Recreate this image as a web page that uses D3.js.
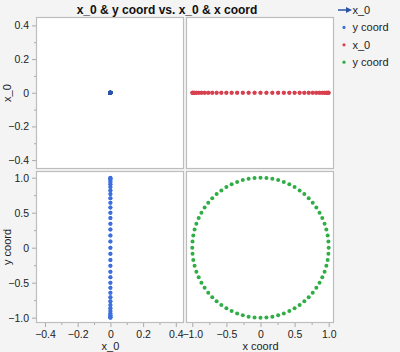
<!DOCTYPE html>
<html><head><meta charset="utf-8">
<script src="https://cdn.jsdelivr.net/npm/d3@7"></script>
<style>
html,body{margin:0;padding:0;background:#f4f4f4;}
svg{display:block;font-family:"Liberation Sans",Arial,Helvetica,sans-serif;}
</style></head>
<body>
<svg id="chart" width="400" height="352"></svg>
<script>
// ---- data ----
const xCoord = [1,0.996,0.985,0.966,0.940,0.906,0.866,0.819,0.766,0.707,0.643,0.574,0.5,0.423,0.342,0.259,0.174,0.087,
  0,-0.087,-0.174,-0.259,-0.342,-0.423,-0.5,-0.574,-0.643,-0.707,-0.766,-0.819,-0.866,-0.906,-0.940,-0.966,-0.985,-0.996,-1,
  -0.996,-0.985,-0.966,-0.940,-0.906,-0.866,-0.819,-0.766,-0.707,-0.643,-0.574,-0.5,-0.423,-0.342,-0.259,-0.174,-0.087,0,
  0.087,0.174,0.259,0.342,0.423,0.5,0.574,0.643,0.707,0.766,0.819,0.866,0.906,0.940,0.966,0.985,0.996];
const yCoord = [0,0.087,0.174,0.259,0.342,0.423,0.5,0.574,0.643,0.707,0.766,0.819,0.866,0.906,0.940,0.966,0.985,0.996,
  1,0.996,0.985,0.966,0.940,0.906,0.866,0.819,0.766,0.707,0.643,0.574,0.5,0.423,0.342,0.259,0.174,0.087,0,
  -0.087,-0.174,-0.259,-0.342,-0.423,-0.5,-0.574,-0.643,-0.707,-0.766,-0.819,-0.866,-0.906,-0.940,-0.966,-0.985,-0.996,-1,
  -0.996,-0.985,-0.966,-0.940,-0.906,-0.866,-0.819,-0.766,-0.707,-0.643,-0.574,-0.5,-0.423,-0.342,-0.259,-0.174,-0.087];
const x0 = [0,0,0,0,0,0,0,0,0,0,0,0,0,0,0,0,0,0,0,0,0,0,0,0,0,0,0,0,0,0,0,0,0,0,0,0,
  0,0,0,0,0,0,0,0,0,0,0,0,0,0,0,0,0,0,0,0,0,0,0,0,0,0,0,0,0,0,0,0,0,0,0,0];
const x0Ticks = [-0.4,-0.2,0,0.2,0.4];
const x0Minor = [-0.3,-0.1,0.1,0.3];
const coordTicks = [-1,-0.5,0,0.5,1];
const coordMinor = [-0.75,-0.25,0.25,0.75];
const titleText = "x_0 & y coord vs. x_0 & x coord";
const legendItems = [
  {label:"x_0", kind:"arrow", color:"#2c52a8"},
  {label:"y coord", kind:"dot", color:"#3d6fde"},
  {label:"x_0", kind:"dot", color:"#d8404f"},
  {label:"y coord", kind:"dot", color:"#2fae45"}
];

// ---- layout ----
const svg = d3.select("#chart");
const cols = [[36,184],[186,334]];
const rows = [[17,169],[171,323]];
const fmt = v => v===0 ? "0" : d3.format(".1f")(v);

const xScales = [
  d3.scaleLinear().domain([-0.455,0.45]).range(cols[0]),
  d3.scaleLinear().domain([-1.092,1.078]).range(cols[1])
];
const yScales = [
  d3.scaleLinear().domain([-0.453,0.45]).range([rows[0][1],rows[0][0]]),
  d3.scaleLinear().domain([-1.076,1.096]).range([rows[1][1],rows[1][0]])
];

// panels
const panels = [
  {c:0,r:0,xs:x0,ys:x0,color:"#2c52a8"},
  {c:1,r:0,xs:xCoord,ys:x0,color:"#d8404f"},
  {c:0,r:1,xs:x0,ys:yCoord,color:"#3d6fde"},
  {c:1,r:1,xs:xCoord,ys:yCoord,color:"#2fae45"}
];
panels.forEach(p=>{
  const [x1,x2]=cols[p.c],[y1,y2]=rows[p.r];
  svg.append("rect").attr("x",x1+0.5).attr("y",y1+0.5).attr("width",x2-x1-1).attr("height",y2-y1-1)
    .attr("fill","#fff").attr("stroke","#bdbdbd").attr("stroke-width",1.2);
  const g = svg.append("g");
  const xs=xScales[p.c], ys=yScales[p.r];
  g.selectAll("circle").data(p.xs.map((v,i)=>[v,p.ys[i]])).join("circle")
    .attr("cx",d=>xs(d[0])).attr("cy",d=>ys(d[1])).attr("r",2).attr("fill",p.color);
});

// axes
function styleAxis(g){
  g.select(".domain").remove();
  g.selectAll(".tick line").attr("stroke","#aaa");
  g.selectAll(".tick text").attr("fill","#222").attr("font-size","10.5px");
}
// left axes
[[0,x0Ticks,x0Minor],[1,coordTicks,coordMinor]].forEach(([r,t,m])=>{
  const g=svg.append("g").attr("transform",`translate(${cols[0][0]},0)`)
    .call(d3.axisLeft(yScales[r]).tickValues(t).tickFormat(fmt).tickSize(4).tickPadding(3));
  styleAxis(g);
  const gm=svg.append("g").attr("transform",`translate(${cols[0][0]},0)`)
    .call(d3.axisLeft(yScales[r]).tickValues(m).tickFormat("").tickSize(2));
  styleAxis(gm);
});
// bottom axes
[[0,x0Ticks,x0Minor],[1,coordTicks,coordMinor]].forEach(([c,t,m])=>{
  const g=svg.append("g").attr("transform",`translate(0,${rows[1][1]})`)
    .call(d3.axisBottom(xScales[c]).tickValues(t).tickFormat(fmt).tickSize(4).tickPadding(4));
  styleAxis(g);
  const gm=svg.append("g").attr("transform",`translate(0,${rows[1][1]})`)
    .call(d3.axisBottom(xScales[c]).tickValues(m).tickFormat("").tickSize(2));
  styleAxis(gm);
});

// axis titles
svg.append("text").attr("transform",`translate(11,${(rows[0][0]+rows[0][1])/2}) rotate(-90)`)
  .attr("text-anchor","middle").attr("font-size","11px").attr("fill","#222").text("x_0");
svg.append("text").attr("transform",`translate(11,${(rows[1][0]+rows[1][1])/2}) rotate(-90)`)
  .attr("text-anchor","middle").attr("font-size","11px").attr("fill","#222").text("y coord");
svg.append("text").attr("x",xScales[0](0)).attr("y",350).attr("text-anchor","middle")
  .attr("font-size","11px").attr("fill","#222").text("x_0");
svg.append("text").attr("x",xScales[1](0)).attr("y",350).attr("text-anchor","middle")
  .attr("font-size","11px").attr("fill","#222").text("x coord");

// title
svg.append("text").attr("x",167).attr("y",14).attr("text-anchor","middle")
  .attr("font-size","12px").attr("font-weight","bold").attr("fill","#111").text(titleText);

// legend
const lg = svg.append("g");
legendItems.forEach((d,i)=>{
  const y = 10 + i*17.4;
  if(d.kind==="arrow"){
    lg.append("line").attr("x1",338).attr("x2",349).attr("y1",y).attr("y2",y)
      .attr("stroke",d.color).attr("stroke-width",1.5);
    lg.append("path").attr("d",`M352,${y} L346,${y-3} L346,${y+3} Z`).attr("fill",d.color);
  } else {
    lg.append("circle").attr("cx",344).attr("cy",y).attr("r",1.6).attr("fill",d.color);
  }
  lg.append("text").attr("x",352.5).attr("y",y+4).attr("font-size","11px").attr("fill","#222").text(d.label);
});
</script>
</body></html>
